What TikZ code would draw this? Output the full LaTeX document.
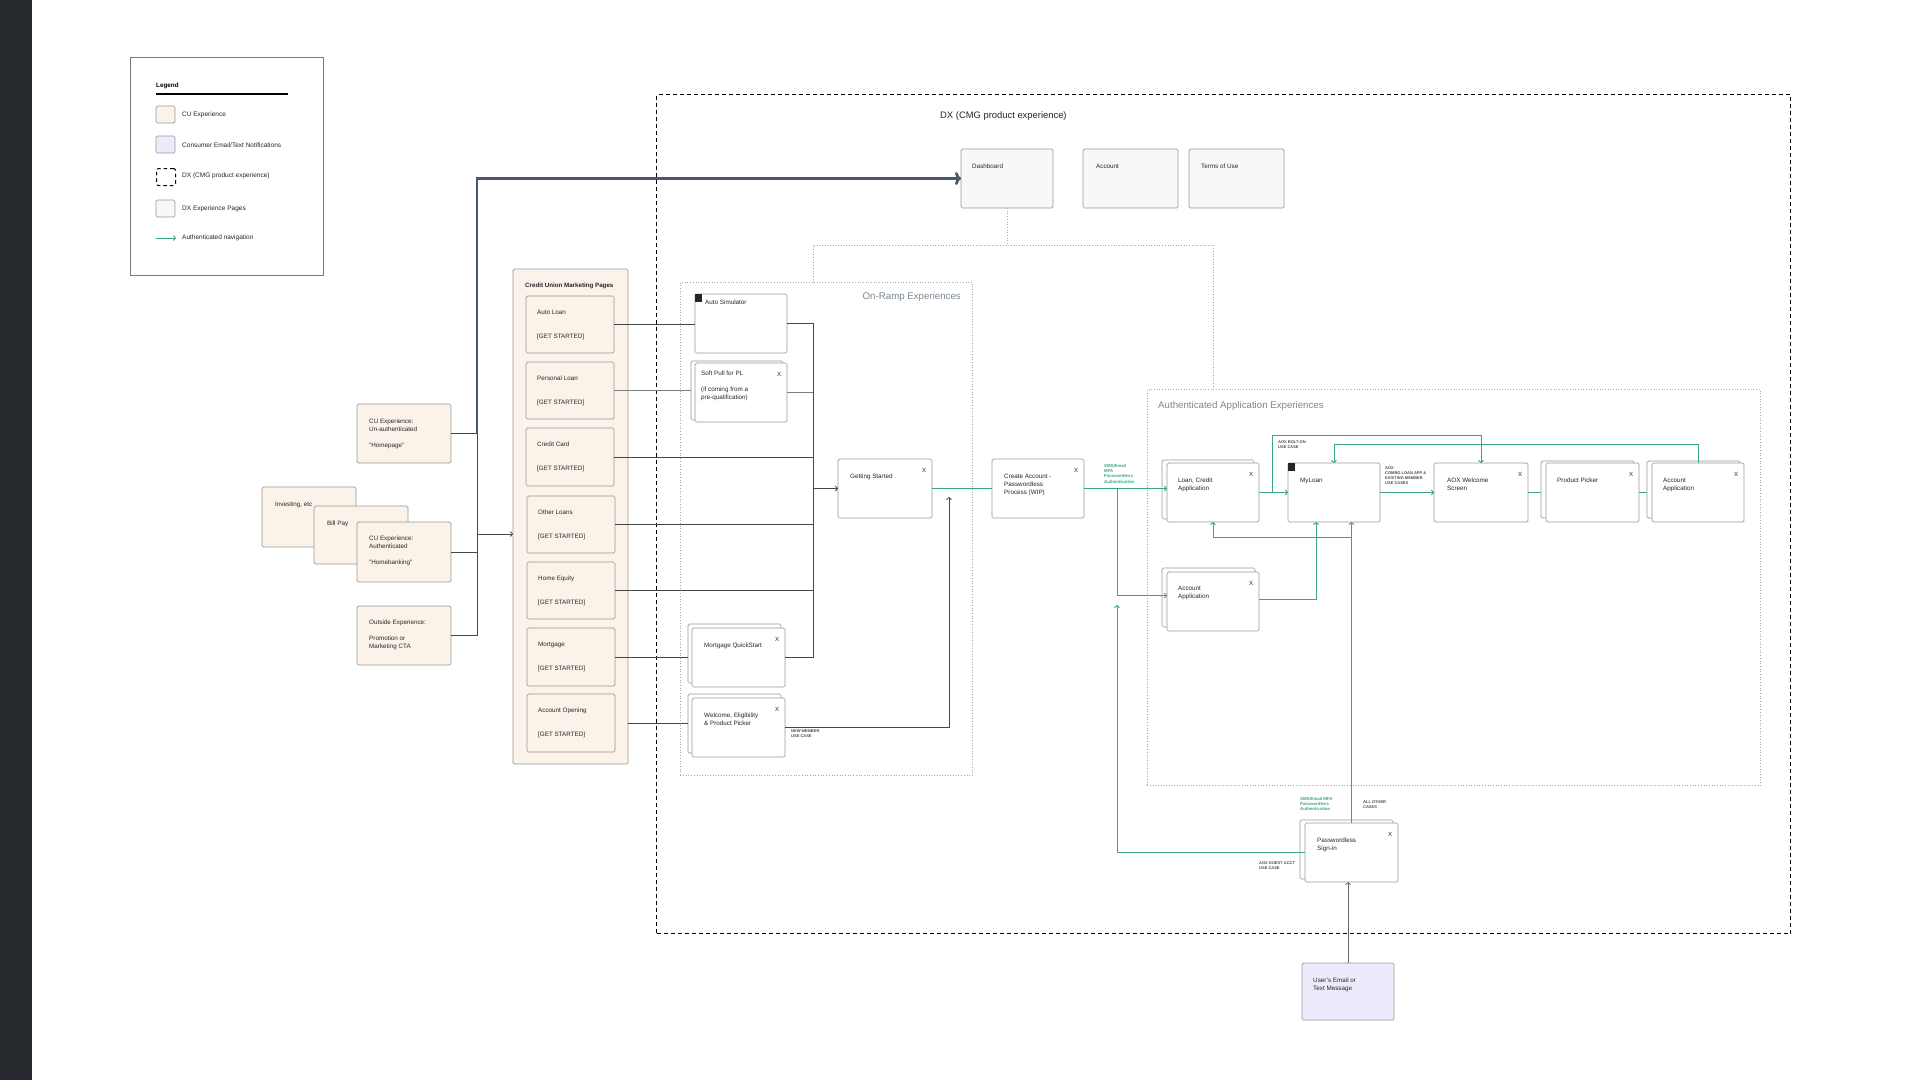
\documentclass[tikz,border=0pt]{standalone}
\usepackage{fontspec}
\setmainfont{Liberation Sans}
\usetikzlibrary{arrows.meta}
\definecolor{cream}{HTML}{FBF2E9}
\definecolor{lav}{HTML}{EDEAFB}
\definecolor{pagegray}{HTML}{F8F8F8}
\definecolor{bord}{HTML}{9A9A9A}
\definecolor{grn}{HTML}{3DA57A}
\definecolor{slate}{HTML}{4B5966}
\definecolor{ttl}{HTML}{7D8893}
\definecolor{darkbar}{HTML}{25282C}
\definecolor{ink}{HTML}{262626}
\definecolor{lbl}{HTML}{46505A}
\definecolor{dotc}{HTML}{A3AAB0}
\newcommand\mkcard[9]{%
  \node[#1, minimum width=#5pt, minimum height=#6pt] (#2) at (#3,#4) {};
  \node[txt] (#2-t) at (#7,#8) {#9};}
\newcommand\mkback[6]{%
  \node[#1, minimum width=#5pt, minimum height=#6pt] (#2-b) at (#3,#4) {};}
\newcommand\mkx[1]{\node[xmk] (#1-x) at ([xshift=-8pt,yshift=-11pt]#1.north east) {X};}
\begin{document}
\begin{tikzpicture}[x=1pt,y=-1pt,
  cardbase/.style={draw=bord, line width=0.7pt, rounded corners=1.5pt, inner sep=0pt, outer sep=0pt, anchor=north west},
  cu/.style={cardbase, fill=cream},
  pg/.style={cardbase, fill=pagegray},
  wc/.style={cardbase, fill=white},
  lv/.style={cardbase, fill=lav},
  txt/.style={font=\fontsize{6.3}{8}\selectfont, text=ink, inner sep=0pt, align=left, anchor=north west},
  ttlf/.style={font=\fontsize{9.7}{11}\selectfont, text=ttl, inner sep=0pt},
  smalllbl/.style={font=\fontsize{4}{5}\selectfont\bfseries, text=lbl, inner sep=0pt, align=left, anchor=north west},
  gsmall/.style={font=\fontsize{4.3}{5.3}\selectfont\bfseries, text=grn, inner sep=0pt, align=left, anchor=north west},
  xmk/.style={font=\fontsize{6}{7}\selectfont, text=ink, inner sep=0pt},
  conn/.style={draw=ink!85, line width=0.8pt},
  gconn/.style={draw=grn, line width=0.9pt},
  arr/.style={-{To[length=3pt,width=5.5pt]}},
  dotbox/.style={draw=dotc, line width=0.7pt, dotted},
]
\useasboundingbox (0,0) rectangle (1920,1080);
\fill[white] (0,0) rectangle (1920,1080);
\fill[darkbar] (0,0) rectangle (32,1080);

% ---------- Legend ----------
\node[draw=bord!80!black, line width=0.7pt, fill=white, minimum width=193pt, minimum height=218pt, anchor=north west, inner sep=0pt] (legend) at (130,57) {};
\node[font=\fontsize{6.3}{7}\selectfont\bfseries, anchor=west, inner sep=0pt] (lg-t) at (156,86) {Legend};
\draw[black, line width=1.1pt] (lg-t.west |- 0,94) -- (288,94);
\node[cu, minimum width=19pt, minimum height=17pt] (sw1) at (156,106) {};
\node[txt, anchor=west, font=\fontsize{6.5}{8}\selectfont] (sw1-t) at (182,115) {CU Experience};
\node[lv, minimum width=19pt, minimum height=17pt] (sw2) at (156,136) {};
\node[txt, anchor=west, font=\fontsize{6.5}{8}\selectfont] (sw2-t) at (182,145) {Consumer Email/Text Notifications};
\node[draw=black, line width=1.1pt, dash pattern=on 3.5pt off 3pt, rounded corners=2pt, minimum width=19pt, minimum height=17pt, anchor=north west, inner sep=0pt] (sw3) at (156,168) {};
\node[txt, anchor=west, font=\fontsize{6.5}{8}\selectfont] (sw3-t) at (182,176) {DX (CMG product experience)};
\node[pg, minimum width=19pt, minimum height=17pt] (sw4) at (156,200) {};
\node[txt, anchor=west, font=\fontsize{6.5}{8}\selectfont] (sw4-t) at (182,209) {DX Experience Pages};
\coordinate (la1) at (156,238);
\coordinate (la2) at (176,238);
\draw[gconn, arr] (la1) -- (la2);
\node[txt, anchor=west, font=\fontsize{6.5}{8}\selectfont] (sw5-t) at (182,238) {Authenticated navigation};

% ---------- Containers ----------
\node[draw=black, line width=1.1pt, dash pattern=on 4pt off 3pt, minimum width=1134pt, minimum height=839pt, anchor=north west, inner sep=0pt] (dx) at (656,94) {};
\node[font=\fontsize{9.4}{11}\selectfont, text=ink, anchor=west, inner sep=0pt] (dx-t) at (940,116) {DX (CMG product experience)};
\node[dotbox, minimum width=292pt, minimum height=493pt, anchor=north west, inner sep=0pt] (onramp) at (680,282) {};
\node[ttlf, anchor=east] (onramp-t) at (961,297) {On-Ramp Experiences};
\node[dotbox, minimum width=613pt, minimum height=396pt, anchor=north west, inner sep=0pt] (auth) at (1147,389) {};
\node[ttlf, anchor=west] (auth-t) at (1158,406) {Authenticated Application Experiences};

% ---------- DX pages ----------
\mkcard{pg}{dash}{961}{149}{92}{59}{972}{163.6}{Dashboard}
\mkcard{pg}{acct}{1083}{149}{95}{59}{1096}{163.6}{Account}
\mkcard{pg}{tou}{1189}{149}{95}{59}{1201}{163.6}{Terms of Use}

\coordinate (brkL) at (813,245);
\coordinate (brkR) at (1213,245);
\draw[dotbox] (dash.south) -- (dash.south |- brkL);
\draw[dotbox] (brkL |- onramp.north) -- (brkL) -- (brkR) -- (brkR |- auth.north);

% ---------- Left CU experiences ----------
\mkcard{cu}{inv}{262}{487}{94}{60}{275}{501.6}{Investing, etc}
\mkcard{cu}{bp}{314}{506}{94}{58}{327}{520.6}{Bill Pay}
\mkcard{cu}{cuau}{357}{522}{94}{60}{369}{535.6}{CU Experience:\\Authenticated\\[8pt]"Homebanking"}
\mkcard{cu}{cuun}{357}{404}{94}{59}{369}{418.6}{CU Experience:\\Un-authenticated\\[8pt]"Homepage"}
\mkcard{cu}{outs}{357}{606}{94}{59}{369}{619.6}{Outside Experience:\\[8pt]Promotion or\\Marketing CTA}

% ---------- Marketing pages ----------
\node[cu, minimum width=115pt, minimum height=495pt] (cup) at (513,269) {};
\node[txt, font=\fontsize{6.2}{7}\selectfont\bfseries, anchor=west] (cup-t) at (525,286) {Credit Union Marketing Pages};
\mkcard{cu}{al}{526}{296}{88}{57}{537}{309.6}{Auto Loan\\[16pt]{[GET STARTED]}}
\mkcard{cu}{pl}{526}{362}{88}{57}{537}{375.6}{Personal Loan\\[16pt]{[GET STARTED]}}
\mkcard{cu}{cc}{526}{428}{88}{58}{537}{441.6}{Credit Card\\[16pt]{[GET STARTED]}}
\mkcard{cu}{ol}{527}{496}{88}{57}{538}{509.6}{Other Loans\\[16pt]{[GET STARTED]}}
\mkcard{cu}{he}{527}{562}{88}{57}{538}{575.6}{Home Equity\\[16pt]{[GET STARTED]}}
\mkcard{cu}{mg}{527}{628}{88}{58}{538}{641.6}{Mortgage\\[16pt]{[GET STARTED]}}
\mkcard{cu}{ao}{527}{694}{88}{58}{538}{707.6}{Account Opening\\[16pt]{[GET STARTED]}}

% ---------- On-ramp ----------
\mkcard{wc}{asim}{695}{294}{92}{59}{705}{299.6}{Auto Simulator}
\node[fill=ink, minimum width=7pt, minimum height=8pt, inner sep=0pt, anchor=north west] (asim-sq) at (asim.north west) {};
\mkback{wc}{soft}{691}{361}{92}{59}
\mkcard{wc}{soft}{695}{363}{92}{59}{701}{370.6}{Soft Pull for PL\\[8pt](if coming from a\\pre-qualification)}
\mkx{soft}
\mkcard{wc}{gs}{838}{459}{94}{59}{850}{473.6}{Getting Started}
\mkx{gs}
\mkback{wc}{mqs}{688}{624}{93}{59}
\mkcard{wc}{mqs}{692}{628}{93}{59}{704}{642.6}{Mortgage QuickStart}
\mkx{mqs}
\mkback{wc}{wel}{688}{694}{93}{59}
\mkcard{wc}{wel}{692}{698}{93}{59}{704}{712.6}{Welcome, Eligibility\\\& Product Picker}
\mkx{wel}
\mkcard{wc}{ca}{992}{459}{92}{59}{1004}{473.6}{Create Account -\\Passwordless\\Process (WIP)}
\mkx{ca}

% ---------- Authenticated ----------
\mkback{wc}{loan}{1162}{460}{92}{59}
\mkcard{wc}{loan}{1167}{463}{92}{59}{1178}{477.6}{Loan, Credit\\Application}
\mkx{loan}
\mkcard{wc}{myl}{1288}{463}{92}{59}{1300}{477.6}{MyLoan}
\node[fill=ink, minimum width=7pt, minimum height=8pt, inner sep=0pt, anchor=north west] (myl-sq) at (myl.north west) {};
\mkcard{wc}{aox}{1434}{463}{94}{59}{1447}{477.6}{AOX Welcome\\Screen}
\mkx{aox}
\mkback{wc}{pp}{1541}{461}{93}{57}
\mkcard{wc}{pp}{1546}{463}{93}{59}{1557}{477.6}{Product Picker}
\mkx{pp}
\mkback{wc}{aa2}{1647}{461}{93}{57}
\mkcard{wc}{aa2}{1652}{463}{92}{59}{1663}{477.6}{Account\\Application}
\mkx{aa2}
\mkback{wc}{aa}{1162}{568}{93}{59}
\mkcard{wc}{aa}{1167}{572}{92}{59}{1178}{585.6}{Account\\Application}
\mkx{aa}
\mkback{wc}{pw}{1300}{820}{93}{59}
\mkcard{wc}{pw}{1305}{823}{93}{59}{1317}{837.6}{Passwordless\\Sign-in}
\mkx{pw}
\mkcard{lv}{ue}{1302}{963}{92}{57}{1313}{977.6}{User's Email or\\Text Message}

% ---------- small labels ----------
\node[smalllbl] (nm) at (791,730) {NEW MEMBER\\USE CASE};
\node[gsmall] (sms1) at (1104,464) {SMS/Email\\MFA\\Passwordless\\Authentication};
\node[smalllbl] (bolt) at (1278,440) {AOX BOLT-ON\\USE CASE};
\node[smalllbl] (combo) at (1385,466) {AOX\\COMBO LOAN APP \&\\EXISTING MEMBER\\USE CASES};
\node[gsmall] (sms2) at (1300,797) {SMS/Email MFA\\Passwordless\\Authentication};
\node[smalllbl] (other) at (1363,800) {ALL OTHER\\CASES};
\node[smalllbl] (guest) at (1259,861) {AOX GUEST ACCT\\USE CASE};

% ---------- Left connectors ----------
\coordinate (lb) at (477,430);
\draw[conn] (cuun.east) -- (cuun.east -| lb);
\draw[conn] (cuau.east) -- (cuau.east -| lb);
\draw[conn] (outs.east) -- (outs.east -| lb);
\draw[conn] (cuun.east -| lb) -- (outs.east -| lb);
\coordinate (lbm) at (477,534);
\draw[conn, arr] (lbm) -- (lbm -| cup.west);
\draw[slate, line width=2.8pt, -{To[length=6pt,width=13pt]}] (cuun.east -| lb) -- (lb |- dash.west) -- (dash.west);

% ---------- Marketing to on-ramp ----------
\coordinate (rb) at (813,0);
\draw[conn] (al.east) -- (al.east -| asim.west);
\draw[conn, draw=ink!60] (pl.east) -- (pl.east -| soft-b.west);
\draw[conn] (cc.east) -- (cc.east -| rb);
\draw[conn] (ol.east) -- (ol.east -| rb);
\draw[conn] (he.east) -- (he.east -| rb);
\draw[conn] (mg.east) -- (mg.east -| mqs-b.west);
\draw[conn] (ao.east -| cup.east) -- (ao.east -| wel-b.west);
\draw[conn] (asim.east) -- (asim.east -| rb) -- (mqs.east -| rb) -- (mqs.east);
\draw[conn, draw=ink!60] (soft.east) -- (soft.east -| rb);
\draw[conn, arr] (gs.west -| rb) -- (gs.west);
\coordinate (upx) at (949,497);
\draw[conn, arr] (wel.east) -| (upx);

% ---------- Green navigation ----------
\draw[gconn] (gs.east) -- (ca.west);
\draw[gconn, arr] (ca.east) -- (ca.east -| loan.west);
\coordinate (gx) at (1117,605);
\draw[gconn, arr] (ca.east -| gx) |- ([yshift=6pt]aa.west);
\draw[gconn, arr] (pw.west) -| (gx);
\draw[gconn, arr] (loan.east) -- (myl.west);
\coordinate (bo) at (1272,435);
\draw[gconn, arr] (loan.east -| bo) -- (bo) -| (aox.north);
\coordinate (tl) at (1333,444);
\draw[gconn, arr] (aa2.north) |- (myl.north |- tl) -- (myl.north);
\draw[gconn, arr] (myl.east) -- (aox.west);
\draw[gconn] (aox.east) -- (aox.east -| pp-b.west);
\draw[gconn] (pp.east) -- (pp.east -| aa2-b.west);
\coordinate (mx) at (1316,0);
\draw[gconn, arr] ([yshift=2pt]aa.east) -| (mx |- myl.south);
\draw[gconn, arr] (pw.north) -- (pw.north |- myl.south);
\coordinate (br) at (0,537);
\draw[gconn, arr] (pw.north |- br) -| (loan.south);
\draw[conn, draw=ink!70, arr] (ue.north) -- (ue.north |- pw.south);
\end{tikzpicture}
\end{document}
